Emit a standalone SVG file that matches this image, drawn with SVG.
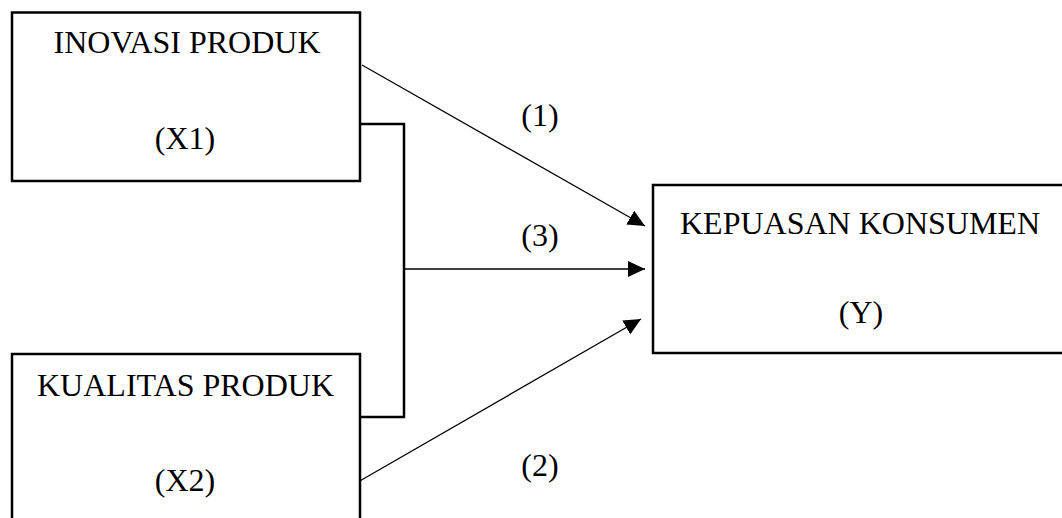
<svg xmlns="http://www.w3.org/2000/svg" width="1062" height="518" viewBox="0 0 1062 518">
<style>
.box{fill:#fff;stroke:#000;stroke-width:2.5}
.t{font-family:"Liberation Serif","Times New Roman",serif;font-size:32px;fill:#000;text-anchor:middle}
.c{fill:none;stroke:#000;stroke-width:1.3}
.br{fill:none;stroke:#000;stroke-width:2.5}
</style>
<defs>
<marker id="ah" markerUnits="userSpaceOnUse" markerWidth="18" markerHeight="16" refX="17" refY="8" orient="auto">
<path d="M0,0 L17,8 L0,16 Z" fill="#000"/>
</marker>
</defs>
<rect width="1062" height="518" fill="#fff"/>
<g id="connectors">
<path class="br" d="M360 124 H404 V417 H360"/>
<line class="c" x1="362" y1="65" x2="645" y2="226" marker-end="url(#ah)"/>
<line class="c" x1="404" y1="269" x2="645" y2="269" marker-end="url(#ah)"/>
<line class="c" x1="358" y1="482" x2="641" y2="319" marker-end="url(#ah)"/>
<text class="t" x="540" y="126">(1)</text>
<text class="t" x="540" y="246">(3)</text>
<text class="t" x="540" y="476">(2)</text>
</g>
<g id="x1">
<rect class="box" x="12" y="12.5" width="348" height="168.5"/>
<text class="t" x="187" y="53">INOVASI PRODUK</text>
<text class="t" x="185" y="149">(X1)</text>
</g>
<g id="x2">
<rect class="box" x="12" y="354" width="348" height="200"/>
<text class="t" x="185.5" y="396">KUALITAS PRODUK</text>
<text class="t" x="185" y="491">(X2)</text>
</g>
<g id="y">
<rect class="box" x="653" y="185" width="500" height="168"/>
<text class="t" x="860" y="234">KEPUASAN KONSUMEN</text>
<text class="t" x="861" y="323">(Y)</text>
</g>
</svg>
